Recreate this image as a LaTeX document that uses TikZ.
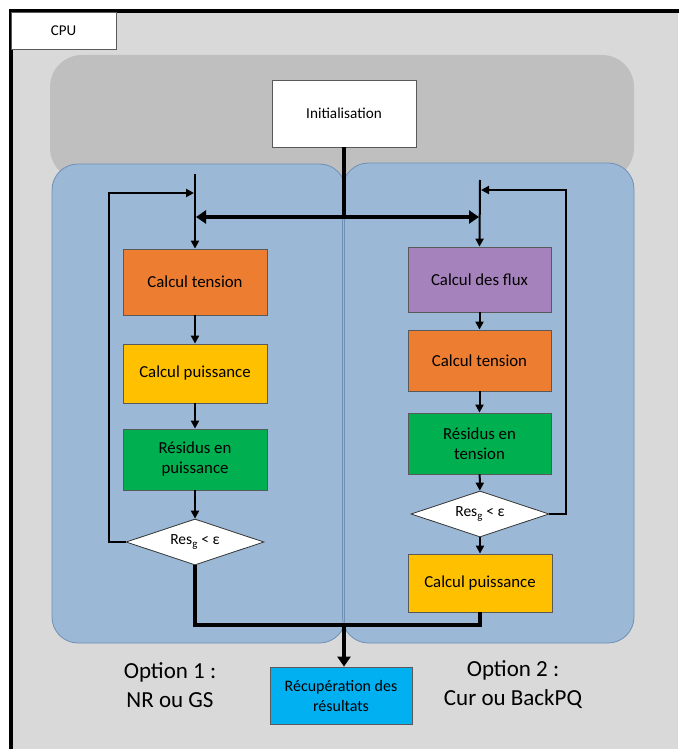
\documentclass[tikz,border=0pt]{standalone}
\usepackage{fontspec}
\setmainfont{Carlito}
\usetikzlibrary{shapes.geometric,arrows.meta}

\definecolor{frameGray}{HTML}{D9D9D9}
\definecolor{bandGray}{HTML}{BFBFBF}
\definecolor{panelBlue}{HTML}{9BB9D7}
\definecolor{panelEdge}{HTML}{6F8FB4}
\definecolor{tensionOrange}{HTML}{ED7D31}
\definecolor{powerYellow}{HTML}{FFC000}
\definecolor{residGreen}{HTML}{00B050}
\definecolor{fluxPurple}{HTML}{A682BD}
\definecolor{resultBlue}{HTML}{00B0F0}

\tikzset{
  procbox/.style={draw=black!65, line width=0.8pt, align=center, inner sep=2pt,
    font=\fontsize{16.8}{20}\selectfont},
  testbox/.style={diamond, aspect=3, draw=black!80, fill=white, line width=0.8pt, inner sep=0pt,
    minimum width=138, minimum height=46, font=\fontsize{15.5}{18}\selectfont},
  flowline/.style={line width=2pt, -{Triangle[length=8pt,width=8pt]}},
  busline/.style={line width=4pt},
  busarrow/.style={line width=4pt, -{Triangle[length=10pt,width=13pt]}},
  optlabel/.style={align=center, font=\fontsize{23}{29}\selectfont},
}

\begin{document}
\begin{tikzpicture}[x=1pt,y=-1pt]
\useasboundingbox (0,0) rectangle (678,749);

% CPU frame
\fill[frameGray] (11,11) rectangle (678,749);
\draw[line width=4pt, line cap=rect] (11,749) -- (11,11) -- (678,11);
\node[draw=black!65, fill=white, line width=0.8pt, minimum width=105, minimum height=37,
  inner sep=0pt, font=\fontsize{15}{18}\selectfont] (cpu) at (63.5,30.5) {CPU};

% grey band and the two option panels
\fill[bandGray, rounded corners=32] (50,55) rectangle (634,180);
\draw[panelEdge, fill=panelBlue, line width=0.8pt, rounded corners=26] (52,164) rectangle (345.5,643);
\draw[panelEdge, fill=panelBlue, line width=0.8pt, rounded corners=26] (342.5,163) rectangle (634,643);
\draw[panelEdge, line width=1pt] (344,170) -- (344,636);

% nodes
\node[procbox, fill=white, minimum width=144, minimum height=67,
  font=\fontsize{15.2}{18}\selectfont] (init) at (344,113.5) {Initialisation};

\node[procbox, fill=tensionOrange, minimum width=144, minimum height=66] (ct1) at (195,282) {Calcul tension};
\node[procbox, fill=powerYellow, minimum width=144, minimum height=59] (cp1) at (195,373.5) {Calcul puissance};
\node[procbox, fill=residGreen, minimum width=144, minimum height=61] (rp1) at (195,459.5) {Résidus en\\puissance};
\node[testbox] (d1) at (195,542) {Res\textsubscript{g} < ε};

\node[procbox, fill=fluxPurple, minimum width=143, minimum height=65] (fx2) at (479.5,279.5) {Calcul des flux};
\node[procbox, fill=tensionOrange, minimum width=143, minimum height=61] (ct2) at (479.5,360.5) {Calcul tension};
\node[procbox, fill=residGreen, minimum width=143, minimum height=61] (rt2) at (479.5,443.5) {Résidus en\\tension};
\node[testbox] (d2) at (480,514) {Res\textsubscript{g} < ε};
\node[procbox, fill=powerYellow, minimum width=144, minimum height=58] (cp2) at (480,583) {Calcul puissance};

\node[procbox, fill=resultBlue, minimum width=142, minimum height=57,
  font=\fontsize{16}{20}\selectfont] (res) at (341,695.5) {Récupération des\\résultats};

\node[optlabel] (opt1) at (170,685) {Option 1 :\\NR ou GS};
\node[optlabel] (opt2) at (513,685) {Option 2 :\\Cur ou BackPQ};

% junction points
\coordinate (split) at (344,217);
\coordinate (topL) at (195,174);
\coordinate (topR) at (480,180);
\coordinate (loopL) at (195,193);
\coordinate (loopR) at (480,190);
\coordinate (merge) at (344,625);

% distribution from the initialisation
\draw[busline] (init.south) -- (split);
\draw[busarrow] (split) -- ([xshift=1pt]split -| topL);
\draw[busarrow] (split) -- ([xshift=-1pt]split -| topR);

% option 1 column
\draw[flowline] (topL) -- (ct1.north);
\draw[flowline] (ct1) -- (cp1);
\draw[flowline] (cp1) -- (rp1);
\draw[flowline] (rp1) -- (d1);
\draw[flowline] (d1.west) -- ++(-17,0) |- ([xshift=-1pt]loopL);

% option 2 column
\draw[flowline] (topR) -- (fx2.north);
\draw[flowline] (fx2) -- (ct2);
\draw[flowline] (ct2) -- (rt2);
\draw[flowline] (rt2) -- (d2);
\draw[flowline] (d2.east) -- ++(17,0) |- ([xshift=1pt]loopR);
\draw[flowline] (d2) -- (cp2);

% collection of the results
\draw[busline, line join=miter] (d1.south) |- (merge);
\draw[busline, line join=miter] (cp2.south) |- (merge);
\draw[busarrow] (merge) -- (merge |- res.north);
\end{tikzpicture}
\end{document}
